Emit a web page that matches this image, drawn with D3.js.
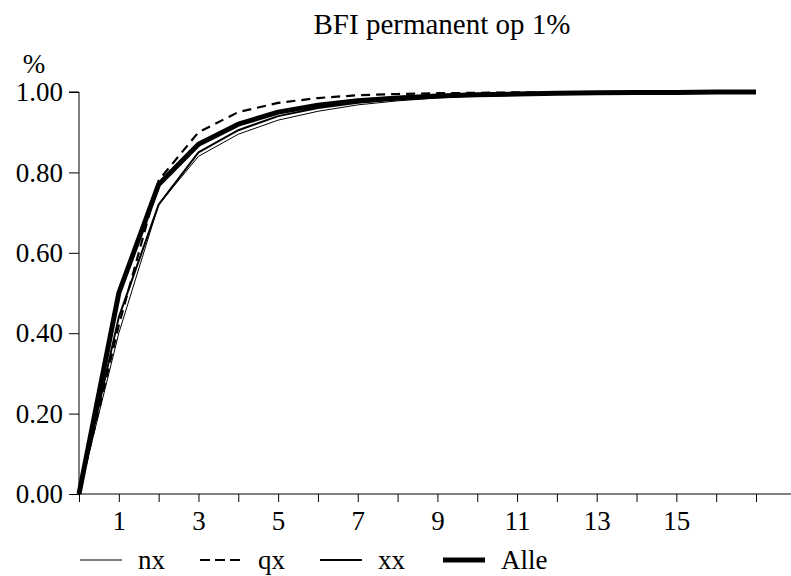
<!DOCTYPE html>
<html>
<head>
<meta charset="utf-8">
<script src="https://cdn.jsdelivr.net/npm/d3@7"></script>
<style>
    body { margin: 0; background: #fff; }
    text { font-family: "Liberation Serif", "Times New Roman", serif; fill: #000; }
</style>
</head>
<body>
<div id="chart"></div>
<script>
var years = d3.range(0, 18);
var nx   = [0, 0.40, 0.72, 0.84, 0.895, 0.93, 0.952, 0.968, 0.978, 0.985, 0.99, 0.993, 0.995, 0.997, 0.998, 0.999, 0.999, 1.0];
var qx   = [0, 0.42, 0.78, 0.90, 0.950, 0.973, 0.985, 0.992, 0.995, 0.997, 0.998, 0.999, 0.999, 1.0, 1.0, 1.0, 1.0, 1.0];
var xx   = [0, 0.44, 0.72, 0.85, 0.905, 0.94, 0.96, 0.973, 0.982, 0.988, 0.992, 0.995, 0.997, 0.998, 0.999, 0.999, 1.0, 1.0];
var alle = [0, 0.50, 0.77, 0.87, 0.920, 0.95, 0.967, 0.978, 0.985, 0.99, 0.993, 0.995, 0.997, 0.998, 0.999, 0.999, 1.0, 1.0];
var yTicks = [0, 0.2, 0.4, 0.6, 0.8, 1.0];
var xLabels = [1, 3, 5, 7, 9, 11, 13, 15];

var seriesList = [
    {name: "nx",   values: nx,   width: 1,   dash: null},
    {name: "qx",   values: qx,   width: 2.2, dash: "9,6"},
    {name: "xx",   values: xx,   width: 2,   dash: null},
    {name: "Alle", values: alle, width: 5,   dash: null}
];

var width = 791, height = 576;
var fontSize = "27px";
var svg = d3.select("#chart").append("svg")
    .attr("width", width)
    .attr("height", height);

var x = d3.scaleLinear().domain([0, 17]).range([79, 756]);
var y = d3.scaleLinear().domain([0, 1]).range([494, 92]);

// title
svg.append("text")
    .attr("x", 442).attr("y", 34)
    .attr("text-anchor", "middle")
    .style("font-size", "29px")
    .text("BFI permanent op 1%");

svg.append("text")
    .attr("x", 34).attr("y", 73)
    .attr("text-anchor", "middle")
    .style("font-size", fontSize)
    .text("%");

// y axis
var yAxis = d3.axisLeft(y)
    .tickValues(yTicks)
    .tickSize(10)
    .tickPadding(6)
    .tickFormat(d3.format(".2f"));
var gy = svg.append("g").attr("transform", "translate(79,0)").call(yAxis);
gy.select(".domain").attr("d", "M-10,92H0V494");
gy.selectAll("text").style("font-size", fontSize).style("font-family", "Liberation Serif");

// x axis
var xAxis = d3.axisBottom(x)
    .tickValues(years)
    .tickSize(8)
    .tickPadding(9)
    .tickFormat(function(d) { return xLabels.indexOf(d) >= 0 ? d : ""; });
var gx = svg.append("g").attr("transform", "translate(0,494)").call(xAxis);
gx.select(".domain").attr("d", "M79,0H791");
gx.selectAll("text").style("font-size", fontSize).style("font-family", "Liberation Serif");

// lines
var line = d3.line()
    .x(function(d, i) { return x(years[i]); })
    .y(function(d) { return y(d); });

svg.append("g").selectAll("path")
    .data(seriesList)
    .enter()
    .append("path")
    .attr("d", function(s) { return line(s.values); })
    .attr("fill", "none")
    .attr("stroke", "#000")
    .attr("stroke-linejoin", "round")
    .attr("stroke-width", function(s) { return s.width; })
    .attr("stroke-dasharray", function(s) { return s.dash; });

// legend
var legendX = [80, 200, 320, 443];
var legend = svg.append("g").selectAll("g")
    .data(seriesList)
    .enter()
    .append("g")
    .attr("transform", function(d, i) { return "translate(" + legendX[i] + ",560)"; });

legend.append("line")
    .attr("x1", 0).attr("x2", 42)
    .attr("stroke", "#000")
    .attr("stroke-width", function(s) { return s.width; })
    .attr("stroke-dasharray", function(s) { return s.dash ? "10,5" : null; });

legend.append("text")
    .attr("x", 58).attr("y", 9)
    .style("font-size", fontSize)
    .text(function(s) { return s.name; });
</script>
</body>
</html>
